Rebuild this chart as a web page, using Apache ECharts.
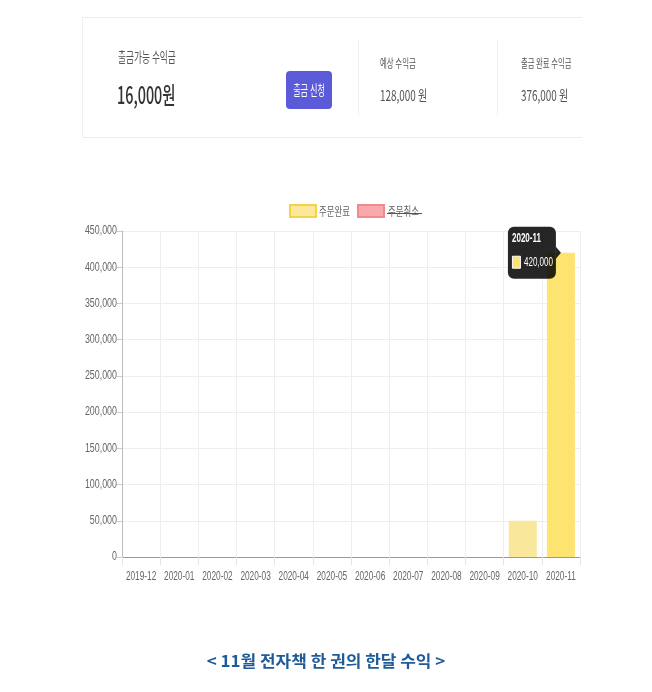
<!DOCTYPE html>
<html>
<head>
<meta charset="utf-8">
<script src="https://cdn.jsdelivr.net/npm/echarts@6/dist/echarts.min.js"></script>
<style>
html,body{margin:0;padding:0;background:#fff;}
#c{width:652px;height:692px;}
</style>
</head>
<body>
<div id="c"></div>
<script>
var categories = ['2019-12','2020-01','2020-02','2020-03','2020-04','2020-05','2020-06','2020-07','2020-08','2020-09','2020-10','2020-11'];
var completedValues = [0,0,0,0,0,0,0,0,0,0,50000,420000];
var cancelledValues = [0,0,0,0,0,0,0,0,0,0,0,0];
var seriesNames = ['주문완료','주문취소'];
var yTicks = {min:0, max:450000, interval:50000};
var cardLabels = ['출금가능 수익금','예상 수익금','출금 완료 수익금'];
var cardValues = ['16,000원','128,000 원','376,000 원'];
var buttonText = '출금 신청';
var caption = '< 11월 전자책 한 권의 한달 수익 >';
var tooltipIndex = 11;

var KR = '"Noto Sans CJK KR","Noto Sans",sans-serif';
var LIB = '"Liberation Sans","Noto Sans CJK KR",sans-serif';

var chart = echarts.init(document.getElementById('c'), null, {renderer:'canvas'});

function fmt(v){ return v.toString().replace(/\B(?=(\d{3})+(?!\d))/g, ','); }

var gid = 0;
function sText(x, y, text, font, fill, sx, align){
  return {type:'text', id:'t'+(gid++), x:x, y:y, scaleX:sx||0.65, z:50,
    style:{text:text, font:font, fill:fill, textAlign:align||'left', textVerticalAlign:'middle'}};
}

var staticGraphics = [
  {type:'line', id:'cb1', shape:{x1:82,y1:17.5,x2:582,y2:17.5}, style:{stroke:'#ececec',lineWidth:1}},
  {type:'line', id:'cb2', shape:{x1:82,y1:137.5,x2:582,y2:137.5}, style:{stroke:'#ececec',lineWidth:1}},
  {type:'line', id:'cb3', shape:{x1:82.5,y1:17,x2:82.5,y2:138}, style:{stroke:'#f0f0f0',lineWidth:1}},
  {type:'line', id:'cd1', shape:{x1:358.5,y1:40,x2:358.5,y2:115}, style:{stroke:'#eeeeee',lineWidth:1}},
  {type:'line', id:'cd2', shape:{x1:497.5,y1:40,x2:497.5,y2:115}, style:{stroke:'#eeeeee',lineWidth:1}},
  sText(118, 57, cardLabels[0], '14px '+KR, '#555', 0.62),
  sText(117, 95, cardValues[0], '500 24px '+KR, '#333', 0.6),
  {type:'rect', id:'btn', shape:{x:286,y:71,width:46,height:38,r:4}, style:{fill:'#5b5bd9'}},
  sText(309, 90, buttonText, '14px '+KR, '#fff', 0.58, 'center'),
  sText(380, 63, cardLabels[1], '12px '+KR, '#555', 0.62),
  sText(380, 95, cardValues[1], '15px '+KR, '#555', 0.66),
  sText(521, 63, cardLabels[2], '12px '+KR, '#555', 0.61),
  sText(521, 95, cardValues[2], '15px '+KR, '#555', 0.66),
  {type:'rect', id:'lg1', shape:{x:290,y:205,width:26,height:12}, style:{fill:'#fbe89a',stroke:'#f3d34a',lineWidth:2}},
  sText(319, 211, seriesNames[0], '12px '+KR, '#666', 0.7),
  {type:'rect', id:'lg2', shape:{x:358,y:205,width:26,height:12}, style:{fill:'#f9a9ab',stroke:'#ef8a8e',lineWidth:2}},
  sText(388, 211, seriesNames[1], '12px '+KR, '#666', 0.7),
  {type:'line', id:'strike', z:60, shape:{x1:387,y1:213.5,x2:422,y2:213.5}, style:{stroke:'#555',lineWidth:1}},
  {type:'text', id:'cap', x:326, y:661, scaleX:1.06, z:50,
    style:{text:caption, font:'bold 16px '+KR, fill:'#1e5b98', textAlign:'center', textVerticalAlign:'middle'}}
];

var option = {
  animation:false,
  backgroundColor:'#fff',
  graphic:staticGraphics,
  grid:{left:122, right:72, top:231, bottom:135},
  xAxis:{
    type:'category',
    data:categories,
    boundaryGap:true,
    axisLine:{lineStyle:{color:'#999', width:1}},
    axisTick:{show:true, interval:0, length:8, lineStyle:{color:'#e5e5e5'}},
    axisLabel:{show:false, interval:0},
    splitLine:{show:true, interval:0, lineStyle:{color:'#eeeeee'}}
  },
  yAxis:{
    type:'value',
    min:yTicks.min, max:yTicks.max, interval:yTicks.interval,
    axisLine:{show:true, lineStyle:{color:'#bbb'}},
    axisTick:{show:true, length:5, lineStyle:{color:'#ccc'}},
    axisLabel:{show:false},
    splitLine:{lineStyle:{color:'#eeeeee'}}
  },
  series:[
    {
      name:seriesNames[0], type:'bar', barWidth:28, barGap:'-100%',
      data:completedValues.map(function(v,i){
        return {value:v, itemStyle:{color: i===tooltipIndex ? '#fde36f' : '#f9e79b'}};
      }),
      silent:true
    },
    {
      name:seriesNames[1], type:'bar', barWidth:28,
      data:cancelledValues,
      itemStyle:{color:'#f9a9ab'},
      silent:true
    }
  ]
};
chart.setOption(option);

// axis labels (condensed) placed through the chart's own scales
var extra = [];
categories.forEach(function(c, i){
  var px = chart.convertToPixel({xAxisIndex:0}, c);
  extra.push({type:'text', id:'xl'+i, x:px, y:577, scaleX:0.69, z:50,
    style:{text:c, font:'12px '+LIB, fill:'#666', textAlign:'center', textVerticalAlign:'middle'}});
});
for (var v = yTicks.min; v <= yTicks.max; v += yTicks.interval) {
  var py = chart.convertToPixel({yAxisIndex:0}, v);
  extra.push({type:'text', id:'yl'+v, x:117, y:py, scaleX:0.74, z:50,
    style:{text:fmt(v), font:'12px '+LIB, fill:'#666', textAlign:'right', textVerticalAlign:'middle'}});
}

// tooltip at the highlighted bar, positioned through the chart's scales
var barTop = chart.convertToPixel({seriesIndex:0}, [tooltipIndex, completedValues[tooltipIndex]]);
var tipX = barTop[0], tipY = barTop[1];
var bw = 48, bh = 52;
var bx = tipX - 5 - bw, by = tipY - bh/2;
extra.push(
  {type:'rect', id:'tipbox', z:70, shape:{x:bx,y:by,width:bw,height:bh,r:6}, style:{fill:'rgba(0,0,0,0.85)'}},
  {type:'polygon', id:'tipcaret', z:70, shape:{points:[[bx+bw,tipY-6],[tipX,tipY],[bx+bw,tipY+6]]}, style:{fill:'rgba(0,0,0,0.85)'}},
  {type:'text', id:'tiptitle', x:bx+4, y:by+12, scaleX:0.62, z:72, style:{text:categories[tooltipIndex], font:'bold 13px '+LIB, fill:'#fff', textVerticalAlign:'middle'}},
  {type:'rect', id:'tipsw', z:72, shape:{x:bx+4.5,y:by+29.5,width:8,height:12}, style:{fill:'#fde36f',stroke:'#fff',lineWidth:1}},
  {type:'text', id:'tipval', x:bx+16, y:by+36, scaleX:0.62, z:72, style:{text:fmt(completedValues[tooltipIndex]), font:'13px '+LIB, fill:'#fff', textVerticalAlign:'middle'}}
);
chart.setOption({graphic:extra});
</script>
</body>
</html>
